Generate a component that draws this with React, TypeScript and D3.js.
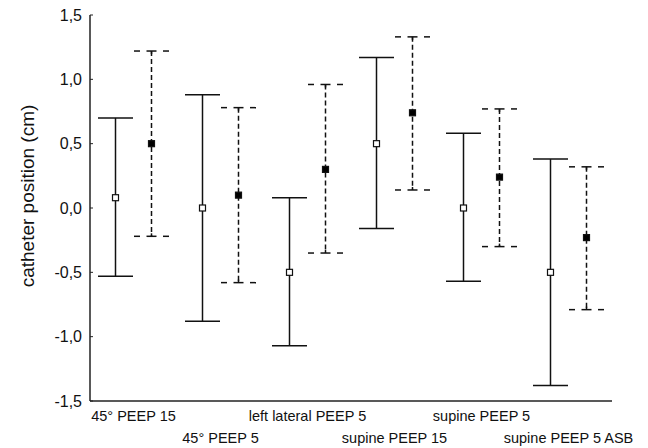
import React from 'react'
import * as d3 from 'd3'

// conditions along the x axis
const categories = [
  '45° PEEP 15',
  '45° PEEP 5',
  'left lateral PEEP 5',
  'supine PEEP 15',
  'supine PEEP 5',
  'supine PEEP 5 ASB'
]

// solid series (open squares): mean, lower and upper whisker
const solidMean = [0.08, 0.0, -0.5, 0.5, 0.0, -0.5]
const solidLow = [-0.53, -0.88, -1.07, -0.16, -0.57, -1.38]
const solidHigh = [0.7, 0.88, 0.08, 1.17, 0.58, 0.38]

// dashed series (filled squares)
const dashMean = [0.5, 0.1, 0.3, 0.74, 0.24, -0.23]
const dashLow = [-0.22, -0.58, -0.35, 0.14, -0.3, -0.79]
const dashHigh = [1.22, 0.78, 0.96, 1.33, 0.77, 0.32]

const yTicks = [-1.5, -1.0, -0.5, 0.0, 0.5, 1.0, 1.5]

const width = 648
const height = 448
const margin = { top: 15, right: 36, bottom: 47, left: 90 }
const font = 'Arial, "Liberation Sans", sans-serif'

const App = () => {
  const x = d3
    .scaleBand()
    .domain(categories)
    .range([margin.left, width - margin.right])
  const y = d3
    .scaleLinear()
    .domain([-1.5, 1.5])
    .range([height - margin.bottom, margin.top])

  const fmt = (v) => d3.format('.1f')(v).replace('.', ',').replace('−', '-')
  const offset = 18 // distance of each series from the category centre
  const capHalf = 17.5
  const box = 6
  // dashed caps are drawn as three short pieces: left, centre, right
  const capPieces = [
    [-capHalf, -capHalf + 6],
    [-5, 5],
    [capHalf - 6, capHalf]
  ]

  const whisker = (cx, lo, hi, mean, dashed, key) => (
    <g key={key}>
      <line
        x1={cx}
        x2={cx}
        y1={y(hi)}
        y2={y(lo)}
        stroke="#111"
        strokeWidth={1.5}
        strokeDasharray={dashed ? '5,3' : null}
      />
      {[hi, lo].map((v, i) =>
        dashed ? (
          <g key={i}>
            {capPieces.map(([a, b], j) => (
              <line key={j} x1={cx + a} x2={cx + b} y1={y(v)} y2={y(v)} stroke="#111" strokeWidth={1.5} />
            ))}
            <line x1={cx} x2={cx} y1={y(v)} y2={y(v) + (i === 0 ? 3 : -3)} stroke="#111" strokeWidth={1.5} />
          </g>
        ) : (
          <line key={i} x1={cx - capHalf} x2={cx + capHalf} y1={y(v)} y2={y(v)} stroke="#111" strokeWidth={1.5} />
        )
      )}
      <rect
        x={cx - box / 2}
        y={y(mean) - box / 2}
        width={box}
        height={box}
        fill={dashed ? '#000' : '#fff'}
        stroke="#111"
        strokeWidth={1.2}
      />
    </g>
  )

  const bw = x.bandwidth()

  return (
    <svg width={width} height={height} style={{ position: 'absolute', left: 0, top: 0, background: '#fff' }}>
      {/* axes */}
      <line x1={margin.left} x2={margin.left} y1={y(1.5)} y2={y(-1.5)} stroke="#222" strokeWidth={1.5} />
      <line x1={margin.left} x2={width - margin.right} y1={y(-1.5)} y2={y(-1.5)} stroke="#222" strokeWidth={1.5} />
      {yTicks.map((t) => (
        <g key={t}>
          <line x1={margin.left} x2={margin.left + 3} y1={y(t)} y2={y(t)} stroke="#222" strokeWidth={1} />
          <text x={margin.left - 8} y={y(t)} dy="0.35em" textAnchor="end" fontFamily={font} fontSize={16} fill="#111">
            {fmt(t)}
          </text>
        </g>
      ))}
      <text
        transform={`translate(34, 196) rotate(-90)`}
        textAnchor="middle"
        fontFamily={font}
        fontSize={19}
        fill="#111"
      >
        catheter position (cm)
      </text>

      {/* category labels, staggered on two rows */}
      {categories.map((c, i) => (
        <text
          key={c}
          x={x(c) + bw / 2}
          y={i % 2 === 0 ? 421 : 443}
          textAnchor="middle"
          fontFamily={font}
          fontSize={14.5}
          fill="#111"
        >
          {c}
        </text>
      ))}

      {categories.map((c, i) => {
        const cx = x(c) + bw / 2
        return (
          <g key={c}>
            {whisker(cx - offset, solidLow[i], solidHigh[i], solidMean[i], false, 's')}
            {whisker(cx + offset, dashLow[i], dashHigh[i], dashMean[i], true, 'd')}
          </g>
        )
      })}
    </svg>
  )
}

export default App
